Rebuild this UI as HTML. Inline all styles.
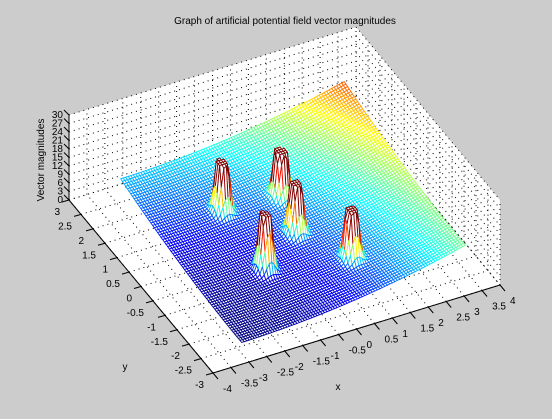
<!DOCTYPE html>
<html><head><meta charset="utf-8"><style>
html,body{margin:0;padding:0;background:#cccccc;}
svg{display:block;font-family:"Liberation Sans",sans-serif;}
</style></head><body>
<svg id="chart" width="552" height="419" viewBox="0 0 552 419">
<rect width="552" height="419" fill="#cccccc"/>
<text x="285" y="24" font-size="10" text-anchor="middle">Graph of artificial potential field vector magnitudes</text>
<g id="walls"></g>
<g id="grid"></g>
<g id="mesh"></g>
<g id="axes"></g>
<text x="338" y="390" font-size="10" text-anchor="middle">x</text>
<text x="125" y="370" font-size="10" text-anchor="middle">y</text>
<text transform="translate(44,160) rotate(-90)" font-size="10" text-anchor="middle">Vector magnitudes</text>
</svg>
<script>
const xTicks=[-4,-3.5,-3,-2.5,-2,-1.5,-1,-0.5,0,0.5,1,1.5,2,2.5,3,3.5,4];
const yTicks=[-3,-2.5,-2,-1.5,-1,-0.5,0,0.5,1,1.5,2,2.5,3];
const zTicks=[0,3,6,9,12,15,18,21,24,27,30];
const peakX=[-1.0,0.5,0.25,-1.0,1.0];
const peakY=[1.1,0.9,-0.1,-0.7,-1.3];
const peakHeight=[40,40,40,40,40];
const peakCap=[21];
const goalX=[-3.0];
const goalY=[-2.5];
const attractGain=[0.245];
const surfXRange=[-2.8,3.45];
const surfYRange=[-2.4,2.65];

const NS="http://www.w3.org/2000/svg";
const O=[69,200],VX=[287,-88],VY=[144,173],VZ=[0,-85];
function proj(x,y,z){const a=(x+4)/8,b=(3-y)/6,c=z/30;
 return [O[0]+a*VX[0]+b*VY[0]+c*VZ[0],O[1]+a*VX[1]+b*VY[1]+c*VZ[1]];}
function mk(tag,attrs,parent){const e=document.createElementNS(NS,tag);for(const k in attrs)e.setAttribute(k,attrs[k]);parent.appendChild(e);return e;}
function pts(arr){return arr.map(p=>p[0].toFixed(1)+","+p[1].toFixed(1)).join(" ");}
function jet(t){t=Math.max(0,Math.min(1,t));
 const r=Math.max(0,Math.min(1,1.5-Math.abs(4*t-3))),g=Math.max(0,Math.min(1,1.5-Math.abs(4*t-2))),b=Math.max(0,Math.min(1,1.5-Math.abs(4*t-1)));
 return "rgb("+Math.round(r*255)+","+Math.round(g*255)+","+Math.round(b*255)+")";}

const walls=document.getElementById('walls'),grid=document.getElementById('grid'),axes=document.getElementById('axes'),mesh=document.getElementById('mesh');
let w;
w=mk('polygon',{points:pts([proj(-4,-3,0),proj(4,-3,0),proj(4,3,0),proj(-4,3,0)]),fill:'#fff'},walls);

w=mk('polygon',{points:pts([proj(-4,3,0),proj(4,3,0),proj(4,3,30),proj(-4,3,30)]),fill:'#fff'},walls);

w=mk('polygon',{points:pts([proj(4,3,0),proj(4,-3,0),proj(4,-3,30),proj(4,3,30)]),fill:'#fff'},walls);


function dline(p,q,name){const l=mk('line',{x1:p[0],y1:p[1],x2:q[0],y2:q[1],stroke:'#000','stroke-width':1,'stroke-dasharray':'1,4'},grid);
 }
xTicks.forEach(x=>{dline(proj(x,-3,0),proj(x,3,0),'x-grid-line');dline(proj(x,3,0),proj(x,3,30),'x-grid-line');});
yTicks.forEach(y=>{dline(proj(-4,y,0),proj(4,y,0),'y-grid-line');dline(proj(4,y,0),proj(4,y,30),'y-grid-line');});
zTicks.forEach(z=>{dline(proj(-4,3,z),proj(4,3,z),'z-grid-line');dline(proj(4,3,z),proj(4,-3,z),'z-grid-line');});

function zval(x,y){let z=attractGain[0]*((x-goalX[0])**2+(y-goalY[0])**2);
 for(let i=0;i<peakX.length;i++){const r2=(x-peakX[i])**2+(y-peakY[i])**2;z+=peakHeight[i]*Math.exp(-r2/0.025);}
 return Math.min(z,peakCap[0]);}
const step=0.07;
const nx=Math.round((surfXRange[1]-surfXRange[0])/step),ny=Math.round((surfYRange[1]-surfYRange[0])/step);
const Z=[];let zmax=0;
for(let i=0;i<=nx;i++){Z.push([]);for(let j=0;j<=ny;j++){const x=surfXRange[0]+i*step,y=surfYRange[0]+j*step;const z=zval(x,y);Z[i].push(z);if(z>zmax)zmax=z;}}
const quads=[];
for(let i=0;i<nx;i++)for(let j=0;j<ny;j++){const x=surfXRange[0]+i*step,y=surfYRange[0]+j*step;
 const depth=-88*(x+step/2+4)/8+173*(3-y-step/2)/6;quads.push([depth,i,j]);}
quads.sort((a,b)=>a[0]-b[0]);
quads.forEach(([d,i,j])=>{const x=surfXRange[0]+i*step,y=surfYRange[0]+j*step;
 const p=[proj(x,y,Z[i][j]),proj(x+step,y,Z[i+1][j]),proj(x+step,y+step,Z[i+1][j+1]),proj(x,y+step,Z[i][j+1])];
 const zm=Math.max(Z[i][j],Z[i+1][j],Z[i+1][j+1],Z[i][j+1]);
 const q=mk('polygon',{points:pts(p),fill:'#fff',stroke:jet(zm/zmax),'stroke-width':0.9},mesh);
 
 });

function line(p,q,name,par){const l=mk('line',{x1:p[0],y1:p[1],x2:q[0],y2:q[1],stroke:'#000','stroke-width':1},par);
 }
function txt(x,y,s,anchor,name){const t=mk('text',{x:x,y:y,'font-size':10,'text-anchor':anchor},axes);t.textContent=s;
 }
line(proj(-4,-3,0),proj(4,-3,0),'x-axis-line',axes);
line(proj(-4,-3,0),proj(-4,3,0),'y-axis-line',axes);
line(proj(-4,3,0),proj(-4,3,30),'z-axis-line',axes);
xTicks.forEach(x=>{const p=proj(x,-3,0);line(p,[p[0]+5,p[1]+6],'x-tick',axes);txt(p[0]+10,p[1]+19,String(x),'start','x-tick-label');});
yTicks.forEach(y=>{const p=proj(-4,y,0);line(p,[p[0]-7,p[1]+2],'y-tick',axes);txt(p[0]-9,p[1]+15,String(y),'end','y-tick-label');});
zTicks.forEach(z=>{const p=proj(-4,3,z);line(p,[p[0]-5,p[1]-5],'z-tick',axes);txt(p[0]-6,p[1]+3,String(z),'end','z-tick-label');});
</script>
</body></html>
